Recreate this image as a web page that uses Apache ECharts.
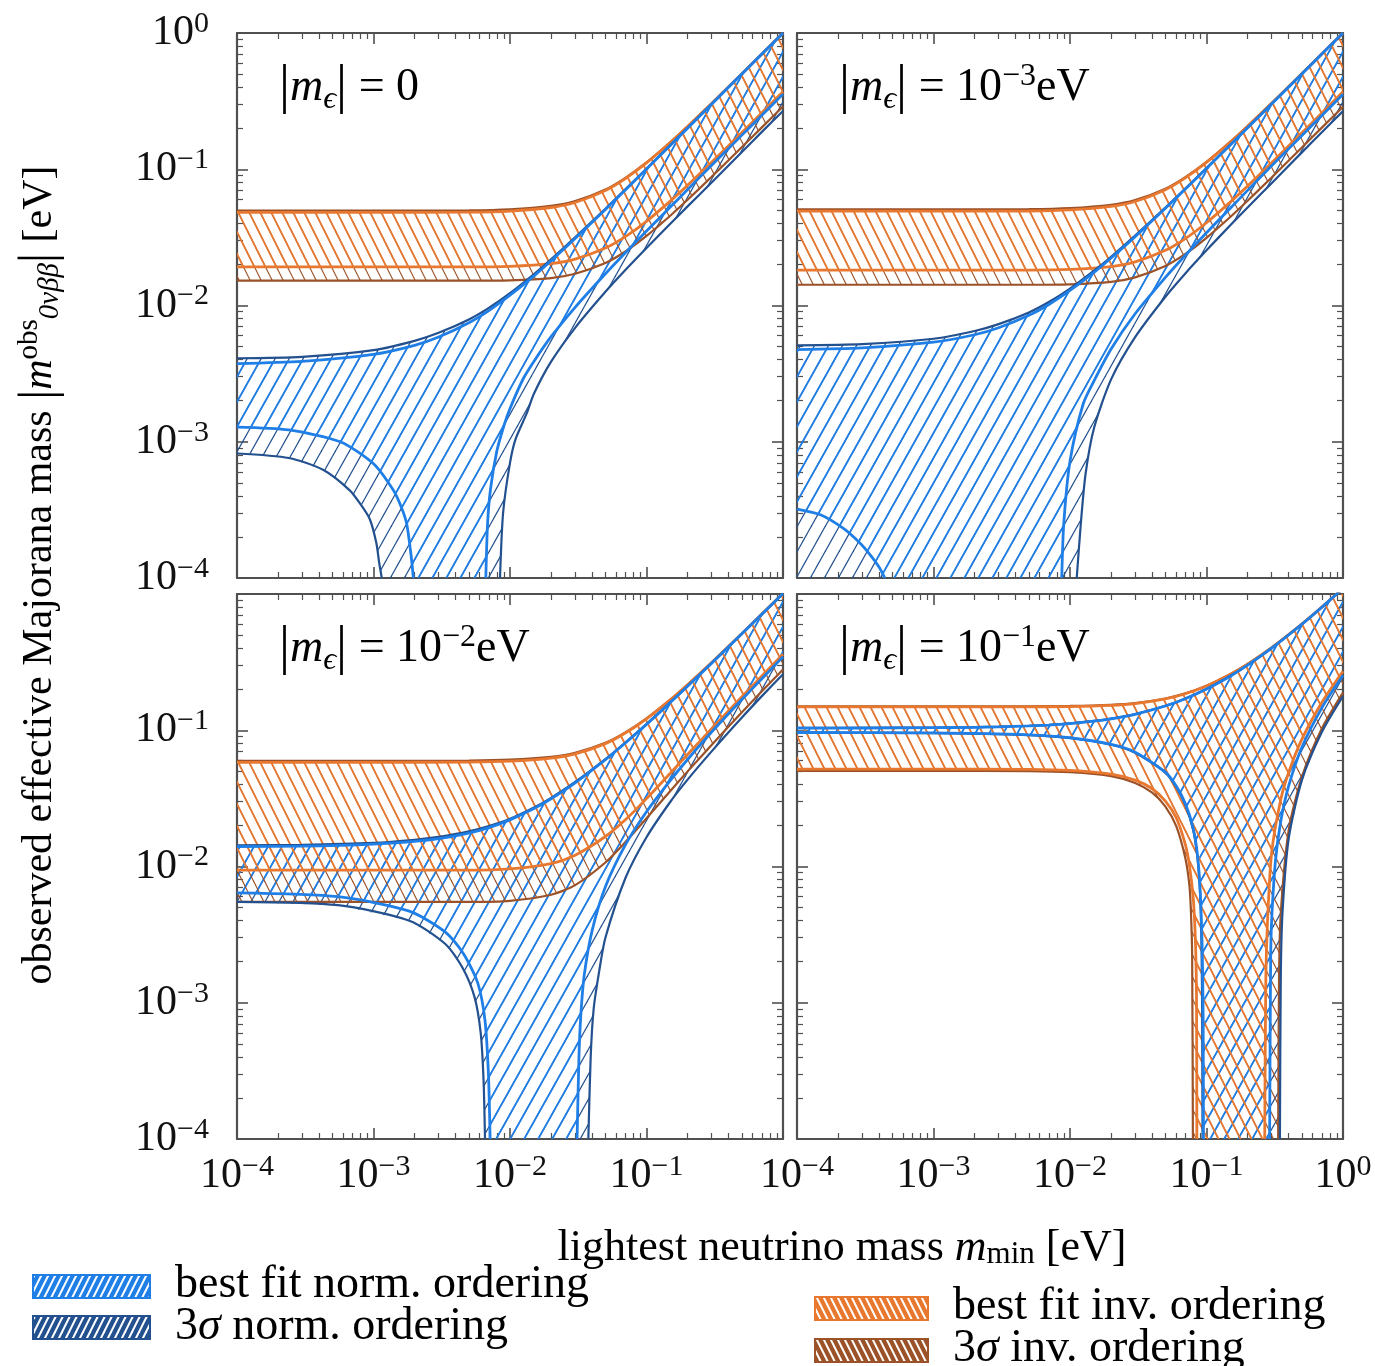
<!DOCTYPE html>
<html><head><meta charset="utf-8">
<script src="https://cdn.jsdelivr.net/npm/echarts@6/dist/echarts.min.js"></script>
<style>html,body{margin:0;padding:0;background:#fff}#c{width:1375px;height:1366px}</style>
</head><body><div id="c"></div><script>
// ---------------- DATA ----------------
const X_NO = [1e-4, 3e-4, 1e-3, 2e-3, 3e-3, 5e-3, 7e-3, 1e-2, 1.5e-2, 2e-2, 3e-2, 5e-2, 7e-2, 0.1, 0.15, 0.2, 0.3, 0.5, 0.7, 1];
const X_IO = [1e-4, 1e-3, 5e-3, 1e-2, 2e-2, 3e-2, 5e-2, 7e-2, 0.1, 0.15, 0.2, 0.3, 0.5, 0.7, 1];

// Panel 1 : |m_eps| = 0
const P1_NO_BF_HI = [0.00375, 0.00389, 0.00438, 0.0051, 0.00587, 0.00748, 0.00918, 0.0119, 0.0165, 0.0213, 0.031, 0.0507, 0.0705, 0.1004, 0.1503, 0.2003, 0.3002, 0.5001, 0.7, 1.0];
const P1_NO_3S_HI = [0.0041, 0.0042, 0.0047, 0.0055, 0.0063, 0.0079, 0.0096, 0.0123, 0.017, 0.0218, 0.0316, 0.0513, 0.0712, 0.101, 0.151, 0.201, 0.301, 0.501, 0.7, 1.0];
const P1_NO_BF_LO_L = [[1e-4,0.00128],[2.4e-4,0.00122],[5.7e-4,0.001],[1e-3,0.00069],[1.4e-3,0.00044],[1.6e-3,0.00033],[1.75e-3,0.00025],[1.88e-3,0.00015],[1.96e-3,0.0001]];
const P1_NO_BF_LO_R = [[6.65e-3,0.0001],[6.85e-3,0.00025],[7.2e-3,0.00045],[8e-3,0.00085],[9e-3,0.0013],[1e-2,0.00175],[1.25e-2,0.0029],[1.5e-2,0.0039],[2e-2,0.0059],[3e-2,0.0097],[5e-2,0.0171],[7e-2,0.0244],[0.1,0.0352],[0.15,0.053],[0.2,0.071],[0.3,0.107],[0.5,0.178],[0.7,0.249],[1,0.356]];
const P1_NO_3S_LO_L = [[1e-4,0.00082],[2.4e-4,0.00076],[4.3e-4,0.00062],[6.7e-4,0.00044],[8e-4,0.00035],[9.4e-4,0.00027],[1.05e-3,0.00018],[1.1e-3,0.00013],[1.15e-3,0.0001]];
const P1_NO_3S_LO_R = [[8.45e-3,0.0001],[8.9e-3,0.0003],[1e-2,0.0007],[1.1e-2,0.00105],[1.32e-2,0.0016],[1.5e-2,0.00226],[2e-2,0.00387],[3e-2,0.00686],[5e-2,0.0126],[7e-2,0.0182],[0.1,0.0264],[0.15,0.04],[0.2,0.0534],[0.3,0.08],[0.5,0.134],[0.7,0.188],[1,0.268]];
const P1_IO_BF_HI = [0.0482, 0.0482, 0.0484, 0.0493, 0.0524, 0.057, 0.0698, 0.0854, 0.1113, 0.1578, 0.206, 0.304, 0.5025, 0.7018, 1.0];
const P1_IO_3S_HI = [0.0497, 0.0497, 0.0499, 0.0508, 0.0538, 0.0583, 0.071, 0.0865, 0.1122, 0.1585, 0.2065, 0.3045, 0.503, 0.702, 1.0];
const P1_IO_BF_LO = [0.0192, 0.0192, 0.0192, 0.0194, 0.0203, 0.0219, 0.0264, 0.032, 0.0415, 0.0586, 0.0763, 0.1126, 0.186, 0.26, 0.371];
const P1_IO_3S_LO = [0.0152, 0.0152, 0.0152, 0.0153, 0.0159, 0.0171, 0.0205, 0.0249, 0.0324, 0.0458, 0.0597, 0.088, 0.1455, 0.203, 0.289];

// Panel 2 : |m_eps| = 1e-3 eV
const P2_NO_BF_HI = [0.00475, 0.00489, 0.00538, 0.0061, 0.00687, 0.00848, 0.01018, 0.0129, 0.0175, 0.0223, 0.032, 0.0517, 0.0715, 0.1014, 0.1513, 0.2013, 0.3012, 0.5011, 0.701, 1.001];
const P2_NO_3S_HI = [0.0051, 0.0052, 0.0057, 0.0065, 0.0073, 0.0089, 0.0106, 0.0133, 0.018, 0.0228, 0.0326, 0.0523, 0.0722, 0.102, 0.152, 0.202, 0.302, 0.502, 0.701, 1.001];
const P2_NO_BF_LO_L = [[1e-4,0.00032],[1.5e-4,0.00029],[2.2e-4,0.00023],[2.9e-4,0.00018],[3.4e-4,0.00015],[4e-4,0.00012],[4.4e-4,0.0001]];
const P2_NO_BF_LO_R = [[8.7e-3,0.0001],[9e-3,0.00025],[1e-2,0.00072],[1.25e-2,0.0019],[1.5e-2,0.0028],[2e-2,0.0048],[3e-2,0.0087],[5e-2,0.0161],[7e-2,0.0234],[0.1,0.0342],[0.15,0.052],[0.2,0.07],[0.3,0.106],[0.5,0.177],[0.7,0.248],[1,0.355]];
const P2_NO_3S_LO_L = [];
const P2_NO_3S_LO_R = [[1.12e-2,0.0001],[1.2e-2,0.00025],[1.3e-2,0.00058],[1.5e-2,0.00126],[2e-2,0.00287],[3e-2,0.00586],[5e-2,0.0116],[7e-2,0.0172],[0.1,0.0254],[0.15,0.039],[0.2,0.0524],[0.3,0.079],[0.5,0.133],[0.7,0.187],[1,0.267]];
const P2_IO_BF_HI = [0.0492, 0.0492, 0.0494, 0.0503, 0.0534, 0.058, 0.0708, 0.0864, 0.1123, 0.1588, 0.207, 0.305, 0.5035, 0.7028, 1.001];
const P2_IO_3S_HI = [0.0507, 0.0507, 0.0509, 0.0518, 0.0548, 0.0593, 0.072, 0.0875, 0.1132, 0.1595, 0.2075, 0.3055, 0.504, 0.703, 1.001];
const P2_IO_BF_LO = [0.0182, 0.0182, 0.0182, 0.0184, 0.0193, 0.0209, 0.0254, 0.031, 0.0405, 0.0576, 0.0753, 0.1116, 0.185, 0.259, 0.37];
const P2_IO_3S_LO = [0.0142, 0.0142, 0.0142, 0.0143, 0.0149, 0.0161, 0.0195, 0.0239, 0.0314, 0.0448, 0.0587, 0.087, 0.1445, 0.202, 0.288];

// Panel 3 : |m_eps| = 1e-2 eV
const P3_NO_BF_HI = [0.014, 0.0141, 0.0146, 0.0153, 0.016, 0.0176, 0.0193, 0.022, 0.0266, 0.0314, 0.0411, 0.0608, 0.0806, 0.1105, 0.1604, 0.2104, 0.3103, 0.51, 0.71, 1.01];
const P3_NO_3S_HI = [0.0143, 0.0144, 0.0149, 0.0157, 0.0165, 0.0181, 0.0198, 0.0224, 0.0271, 0.0319, 0.0417, 0.0614, 0.0813, 0.111, 0.161, 0.211, 0.311, 0.511, 0.71, 1.01];
const P3_NO_BF_LO_L = [[1e-4,0.0064],[5.5e-4,0.006],[1.83e-3,0.0047],[3.36e-3,0.0033],[4.55e-3,0.0023],[5.8e-3,0.0014],[6.55e-3,0.00075],[6.95e-3,0.0003],[7.15e-3,0.0001]];
const P3_NO_BF_LO_R = [[3.1e-2,0.0001],[3.2e-2,0.0004],[3.3e-2,0.0008],[3.5e-2,0.0016],[4e-2,0.0034],[5e-2,0.0071],[7e-2,0.0144],[0.1,0.0252],[0.15,0.043],[0.2,0.061],[0.3,0.097],[0.5,0.168],[0.7,0.239],[1,0.346]];
const P3_NO_3S_LO_L = [[1e-4,0.0055],[5.5e-4,0.0052],[1.83e-3,0.004],[3.36e-3,0.0027],[4.5e-3,0.0018],[5.5e-3,0.0011],[6.1e-3,0.0006],[6.4e-3,0.00027],[6.56e-3,0.0001]];
const P3_NO_3S_LO_R = [[3.75e-2,0.0001],[3.9e-2,0.0004],[4.1e-2,0.0009],[4.5e-2,0.0017],[5e-2,0.003],[7e-2,0.0082],[0.1,0.0164],[0.15,0.03],[0.2,0.0434],[0.3,0.07],[0.5,0.124],[0.7,0.178],[1,0.258]];
const P3_IO_BF_HI = [0.0582, 0.0582, 0.0584, 0.0593, 0.0624, 0.067, 0.0798, 0.0954, 0.1213, 0.1678, 0.216, 0.314, 0.5125, 0.7118, 1.01];
const P3_IO_3S_HI = [0.0597, 0.0597, 0.0599, 0.0608, 0.0638, 0.0683, 0.081, 0.0965, 0.1222, 0.1685, 0.2165, 0.3145, 0.513, 0.712, 1.01];
const P3_IO_BF_LO = [0.0094, 0.0094, 0.0094, 0.0096, 0.0105, 0.0121, 0.0166, 0.022, 0.0315, 0.0486, 0.0663, 0.1026, 0.176, 0.25, 0.361];
const P3_IO_3S_LO = [0.0055, 0.0055, 0.0055, 0.0056, 0.0062, 0.0073, 0.0107, 0.0151, 0.0226, 0.036, 0.0499, 0.078, 0.1355, 0.193, 0.279];

// Panel 4 : |m_eps| = 1e-1 eV
const P4_NO_BF_HI = [0.1037, 0.1039, 0.1044, 0.1051, 0.1059, 0.1075, 0.1092, 0.1119, 0.1165, 0.1213, 0.131, 0.1507, 0.1705, 0.2004, 0.2503, 0.3003, 0.4002, 0.6, 0.8, 1.1];
const P4_NO_3S_HI = [0.1041, 0.1042, 0.1047, 0.1055, 0.1063, 0.1079, 0.1096, 0.1123, 0.117, 0.1218, 0.1316, 0.1513, 0.1712, 0.201, 0.251, 0.301, 0.401, 0.601, 0.8, 1.1];
const P4_NO_BF_LO_L = [[1e-4,0.0963],[1e-3,0.0956],[5e-3,0.0925],[1e-2,0.0881],[2e-2,0.0787],[3e-2,0.069],[5e-2,0.0493],[6e-2,0.039],[7e-2,0.029],[8e-2,0.019],[8.6e-2,0.012],[9e-2,0.0065],[9.3e-2,0.0025],[9.45e-2,0.0008],[9.5e-2,0.0001]];
const P4_NO_BF_LO_R = [[0.29,0.0001],[0.295,0.002],[0.3,0.004],[0.32,0.011],[0.35,0.0215],[0.4,0.039],[0.5,0.075],[0.7,0.146],[1,0.253]];
const P4_NO_3S_LO_L = [[1e-4,0.0959],[1e-3,0.0953],[5e-3,0.0921],[1e-2,0.0877],[2e-2,0.0782],[3e-2,0.0684],[5e-2,0.0487],[6e-2,0.0384],[7e-2,0.0284],[8e-2,0.0184],[8.6e-2,0.0114],[9e-2,0.006],[9.2e-2,0.0025],[9.3e-2,0.0008],[9.35e-2,0.0001]];
const P4_NO_3S_LO_R = [[0.345,0.0001],[0.35,0.0015],[0.36,0.0045],[0.4,0.016],[0.5,0.043],[0.7,0.097],[1,0.178]];
const P4_IO_BF_HI = [0.1482, 0.1482, 0.1484, 0.1493, 0.1524, 0.157, 0.1698, 0.1854, 0.2113, 0.2578, 0.306, 0.404, 0.6025, 0.8018, 1.1];
const P4_IO_3S_HI = [0.1497, 0.1497, 0.1499, 0.1508, 0.1538, 0.1583, 0.171, 0.1865, 0.2122, 0.2585, 0.3065, 0.4045, 0.603, 0.802, 1.1];
const P4_IO_BF_LO_L = [[1e-4,0.0518],[1e-3,0.0518],[5e-3,0.0516],[1e-2,0.0507],[2e-2,0.0476],[3e-2,0.043],[4e-2,0.0372],[5e-2,0.0302],[6e-2,0.0228],[7e-2,0.0145],[7.5e-2,0.0102],[8e-2,0.0058],[8.3e-2,0.0028],[8.45e-2,0.0011],[8.5e-2,0.0001]];
const P4_IO_BF_LO_R = [[0.267,0.0001],[0.272,0.0015],[0.28,0.004],[0.3,0.0126],[0.35,0.031],[0.4,0.049],[0.5,0.086],[0.7,0.16],[1,0.271]];
const P4_IO_3S_LO_L = [[1e-4,0.0503],[1e-3,0.0503],[5e-3,0.0501],[1e-2,0.0492],[2e-2,0.046],[3e-2,0.041],[4e-2,0.0348],[5e-2,0.0275],[6e-2,0.0198],[7e-2,0.0115],[7.5e-2,0.0072],[7.7e-2,0.0045],[7.85e-2,0.0022],[7.95e-2,0.0001]];
const P4_IO_3S_LO_R = [[0.335,0.0001],[0.34,0.0015],[0.35,0.0045],[0.4,0.0185],[0.5,0.0455],[0.7,0.103],[1,0.189]];

// axis ticks / labels
const TICK_VALUES = [1e-4, 1e-3, 1e-2, 1e-1, 1];
const TICK_EXPONENTS = ['\u22124', '\u22123', '\u22122', '\u22121', '0'];
const MINOR_TICKS = [2e-4,3e-4,4e-4,5e-4,6e-4,7e-4,8e-4,9e-4, 2e-3,3e-3,4e-3,5e-3,6e-3,7e-3,8e-3,9e-3, 2e-2,3e-2,4e-2,5e-2,6e-2,7e-2,8e-2,9e-2, 0.2,0.3,0.4,0.5,0.6,0.7,0.8,0.9];
const PANEL_EXPONENTS = [null, '\u22123', '\u22122', '\u22121'];
const LEGEND_NAMES = ['best fit norm. ordering', '3\u03c3 norm. ordering', 'best fit inv. ordering', '3\u03c3 inv. ordering'];

// ---------------- STYLE ----------------
const YMIN = 1e-4, YMAX = 1;
const SERIF = "'Liberation Serif', 'DejaVu Serif', serif";
const TXT = '#111';
const FRAME = '#505050';
const C_NO_BF = '#1f7fe6', C_NO_3S = '#23508e', C_IO_BF = '#e8782f', C_IO_3S = '#9c5228';

function hatch(color, P, H, width, dir, bg) {
  const c = document.createElement('canvas'); c.width = P; c.height = H;
  const g = c.getContext('2d');
  if (bg) { g.fillStyle = bg; g.fillRect(0, 0, P, H); }
  g.strokeStyle = color; g.lineWidth = width;
  for (let k = -1; k <= 1; k++) {
    g.beginPath();
    if (dir === '/') { g.moveTo(k*P - P, 2*H); g.lineTo(k*P + 2*P, -H); }
    else { g.moveTo(k*P - P, -H); g.lineTo(k*P + 2*P, 2*H); }
    g.stroke();
  }
  return { image: c, repeat: 'repeat' };
}
const PAT = {
  no3s: hatch(C_NO_3S, 14, 25, 1.2, '/'),
  nobf: hatch(C_NO_BF, 14, 25, 1.8, '/'),
  io3s: hatch(C_IO_3S, 11, 22, 1.2, '\\'),
  iobf: hatch(C_IO_BF, 11, 22, 1.7, '\\')
};
const LINE = {
  no3s: { color: C_NO_3S, width: 2.2 },
  nobf: { color: C_NO_BF, width: 2.8 },
  io3s: { color: C_IO_3S, width: 2.2 },
  iobf: { color: C_IO_BF, width: 2.8 }
};

function pairs(xs, ys) { return xs.map((x, i) => [x, ys[i]]); }

const PANELS = [
  { no3s: { hi: pairs(X_NO, P1_NO_3S_HI), lo: [P1_NO_3S_LO_L, P1_NO_3S_LO_R] },
    nobf: { hi: pairs(X_NO, P1_NO_BF_HI), lo: [P1_NO_BF_LO_L, P1_NO_BF_LO_R] },
    io3s: { hi: pairs(X_IO, P1_IO_3S_HI), lo: [pairs(X_IO, P1_IO_3S_LO), []] },
    iobf: { hi: pairs(X_IO, P1_IO_BF_HI), lo: [pairs(X_IO, P1_IO_BF_LO), []] } },
  { no3s: { hi: pairs(X_NO, P2_NO_3S_HI), lo: [P2_NO_3S_LO_L, P2_NO_3S_LO_R] },
    nobf: { hi: pairs(X_NO, P2_NO_BF_HI), lo: [P2_NO_BF_LO_L, P2_NO_BF_LO_R] },
    io3s: { hi: pairs(X_IO, P2_IO_3S_HI), lo: [pairs(X_IO, P2_IO_3S_LO), []] },
    iobf: { hi: pairs(X_IO, P2_IO_BF_HI), lo: [pairs(X_IO, P2_IO_BF_LO), []] } },
  { no3s: { hi: pairs(X_NO, P3_NO_3S_HI), lo: [P3_NO_3S_LO_L, P3_NO_3S_LO_R] },
    nobf: { hi: pairs(X_NO, P3_NO_BF_HI), lo: [P3_NO_BF_LO_L, P3_NO_BF_LO_R] },
    io3s: { hi: pairs(X_IO, P3_IO_3S_HI), lo: [pairs(X_IO, P3_IO_3S_LO), []] },
    iobf: { hi: pairs(X_IO, P3_IO_BF_HI), lo: [pairs(X_IO, P3_IO_BF_LO), []] } },
  { no3s: { hi: pairs(X_NO, P4_NO_3S_HI), lo: [P4_NO_3S_LO_L, P4_NO_3S_LO_R] },
    nobf: { hi: pairs(X_NO, P4_NO_BF_HI), lo: [P4_NO_BF_LO_L, P4_NO_BF_LO_R] },
    io3s: { hi: pairs(X_IO, P4_IO_3S_HI), lo: [P4_IO_3S_LO_L, P4_IO_3S_LO_R] },
    iobf: { hi: pairs(X_IO, P4_IO_BF_HI), lo: [P4_IO_BF_LO_L, P4_IO_BF_LO_R] } }
];

const GRIDS = [
  { left: 237, top: 33 }, { left: 797, top: 33 },
  { left: 237, top: 594 }, { left: 797, top: 594 }
];
const GW = 546, GH = 545;

// ---------------- AXES ----------------
const LABEL_RICH = {
  b: { fontFamily: SERIF, fontSize: 42, color: TXT, lineHeight: 48 },
  s: { fontFamily: SERIF, fontSize: 30, color: TXT, verticalAlign: 'top', lineHeight: 34 }
};
function tickFmt(v) {
  let idx = 0, best = 1e9;
  TICK_VALUES.forEach((t, i) => { const d = Math.abs(Math.log10(v) - Math.log10(t)); if (d < best) { best = d; idx = i; } });
  return '{b|10}{s|' + TICK_EXPONENTS[idx] + '}';
}
const xAxes = [], yAxes = [];
GRIDS.forEach((g, p) => {
  const isBottom = p >= 2, isLeft = p % 2 === 0;
  const xLabels = isBottom ? (isLeft ? TICK_VALUES.slice(0, 4) : TICK_VALUES) : null;
  const yLabels = isLeft ? (isBottom ? TICK_VALUES.slice(0, 4) : TICK_VALUES) : null;
  [['bottom', true], ['bottom', false], ['top', true], ['top', false]].forEach(([pos, major]) => {
    const showLab = major && pos === 'bottom' && xLabels;
    xAxes.push({
      type: 'log', logBase: 10, gridIndex: p, position: pos, min: YMIN, max: YMAX,
      axisLine: { show: major, onZero: false, lineStyle: { color: FRAME, width: 2.2 } },
      axisTick: { show: true, inside: true, length: major ? 11 : 6, customValues: major ? TICK_VALUES : MINOR_TICKS,
                  lineStyle: { color: FRAME, width: major ? 1.6 : 1.2 } },
      axisLabel: showLab ? { show: true, customValues: xLabels, formatter: tickFmt, margin: 13, rich: LABEL_RICH } : { show: false },
      splitLine: { show: false }, minorTick: { show: false }, minorSplitLine: { show: false }
    });
  });
  [['left', true], ['left', false], ['right', true], ['right', false]].forEach(([pos, major]) => {
    const showLab = major && pos === 'left' && yLabels;
    yAxes.push({
      type: 'log', logBase: 10, gridIndex: p, position: pos, min: YMIN, max: YMAX,
      axisLine: { show: major, onZero: false, lineStyle: { color: FRAME, width: 2.2 } },
      axisTick: { show: true, inside: true, length: major ? 11 : 6, customValues: major ? TICK_VALUES : MINOR_TICKS,
                  lineStyle: { color: FRAME, width: major ? 1.6 : 1.2 } },
      axisLabel: showLab ? { show: true, customValues: yLabels, formatter: tickFmt, margin: 28, rich: LABEL_RICH } : { show: false },
      splitLine: { show: false }, minorTick: { show: false }, minorSplitLine: { show: false }
    });
  });
});

// ---------------- SERIES ----------------
function polyPoints(api, band) {
  const hi = band.hi;
  const lo = band.lo[0].concat(band.lo[1]);
  const x0 = hi[0][0], x1 = hi[hi.length - 1][0];
  if (!lo.length || lo[0][0] > x0) lo.unshift([x0, YMIN]);
  if (lo[lo.length - 1][0] < x1) lo.push([x1, YMIN]);
  const pts = hi.map(d => api.coord(d));
  for (let i = lo.length - 1; i >= 0; i--) pts.push(api.coord(lo[i]));
  return pts;
}
const series = [];
PANELS.forEach((pn, p) => {
  ['no3s', 'nobf', 'io3s', 'iobf'].forEach((k, j) => {
    const band = pn[k];
    series.push({
      type: 'custom', xAxisIndex: 4 * p, yAxisIndex: 4 * p, clip: true, silent: true, z: 1 + j,
      data: [[0.01, 0.01]],
      renderItem: (params, api) => ({ type: 'polygon', shape: { points: polyPoints(api, band) }, style: { fill: PAT[k], stroke: null } })
    });
  });
  ['io3s', 'iobf', 'no3s', 'nobf'].forEach((k, j) => {
    const band = pn[k];
    [band.hi, band.lo[0], band.lo[1]].forEach(arr => {
      if (arr.length < 2) return;
      series.push({
        type: 'line', xAxisIndex: 4 * p, yAxisIndex: 4 * p, data: arr, showSymbol: false, symbol: 'none',
        smooth: 0.25, clip: true, silent: true, z: 10 + j, animation: false,
        lineStyle: { color: LINE[k].color, width: LINE[k].width }
      });
    });
  });
});

// ---------------- GRAPHIC TEXT ----------------
function mkRich(fs) {
  const ss = Math.round(fs * 0.7);
  return {
    n: { fontFamily: SERIF, fontSize: fs, color: TXT },
    i: { fontFamily: SERIF, fontSize: fs, fontStyle: 'italic', color: TXT },
    bar: { fontFamily: SERIF, fontSize: Math.round(fs * 1.2), color: TXT },
    sup: { fontFamily: SERIF, fontSize: ss, color: TXT, verticalAlign: 'top', lineHeight: ss + 4 },
    sub: { fontFamily: SERIF, fontSize: ss, color: TXT, verticalAlign: 'bottom', lineHeight: ss + 4 },
    subi: { fontFamily: SERIF, fontSize: ss, fontStyle: 'italic', color: TXT, verticalAlign: 'bottom', lineHeight: ss + 4 }
  };
}
const graphic = [];
GRIDS.forEach((g, p) => {
  const e = PANEL_EXPONENTS[p];
  const txt = '{bar||}{i|m}{subi|\u03f5}{bar||}{n| = ' + (e === null ? '0}' : '10}{sup|' + e + '}{n|eV}');
  graphic.push({ type: 'text', x: g.left + 42, y: g.top + 55, silent: true,
    style: { text: txt, rich: mkRich(46), align: 'left', verticalAlign: 'middle', fontFamily: SERIF, fontSize: 46 } });
});
graphic.push({ type: 'text', x: 40, y: 575, rotation: Math.PI / 2, silent: true,
  style: { text: '{n|observed effective Majorana mass }{bar||}{i|m}{sup|obs}{subi|0\u03bd\u03b2\u03b2}{bar||}{n| [eV]}',
           rich: mkRich(42), align: 'center', verticalAlign: 'middle', fontFamily: SERIF, fontSize: 42 } });
graphic.push({ type: 'text', x: 842, y: 1248, silent: true,
  style: { text: '{n|lightest neutrino mass }{i|m}{sub|min}{n| [eV]}', rich: mkRich(44), align: 'center', verticalAlign: 'middle', fontFamily: SERIF, fontSize: 44 } });

const LEG = [
  { x: 33, y: 1275, w: 117, h: 23, c: C_NO_BF, dir: '/', tx: 175, ty: 1285 },
  { x: 33, y: 1316, w: 117, h: 23, c: C_NO_3S, dir: '/', tx: 175, ty: 1327 },
  { x: 815, y: 1297, w: 113, h: 23, c: C_IO_BF, dir: '\\', tx: 953, ty: 1307 },
  { x: 815, y: 1339, w: 113, h: 23, c: C_IO_3S, dir: '\\', tx: 953, ty: 1349 }
];
const LEG_RICH = mkRich(46);
LEG.forEach((l, i) => {
  graphic.push({ type: 'rect', silent: true, shape: { x: l.x, y: l.y, width: l.w, height: l.h },
    style: { fill: hatch('#ffffff', 7, 14, 2, l.dir, l.c), stroke: l.c, lineWidth: 2 } });
  const name = LEGEND_NAMES[i].replace('3\u03c3', '{n|3}{i|\u03c3}{n|');
  const txt = name.indexOf('{n|3}') === 0 ? name + '}' : '{n|' + name + '}';
  graphic.push({ type: 'text', x: l.tx, y: l.ty, silent: true,
    style: { text: txt, rich: LEG_RICH, align: 'left', verticalAlign: 'middle', fontFamily: SERIF, fontSize: 46 } });
});

const chart = echarts.init(document.getElementById('c'), null, { renderer: 'canvas' });
chart.setOption({
  backgroundColor: '#fff',
  animation: false,
  grid: GRIDS.map(g => ({ left: g.left, top: g.top, width: GW, height: GH, containLabel: false, outerBoundsMode: 'none' })),
  xAxis: xAxes,
  yAxis: yAxes,
  series: series,
  graphic: graphic
});
</script></body></html>
